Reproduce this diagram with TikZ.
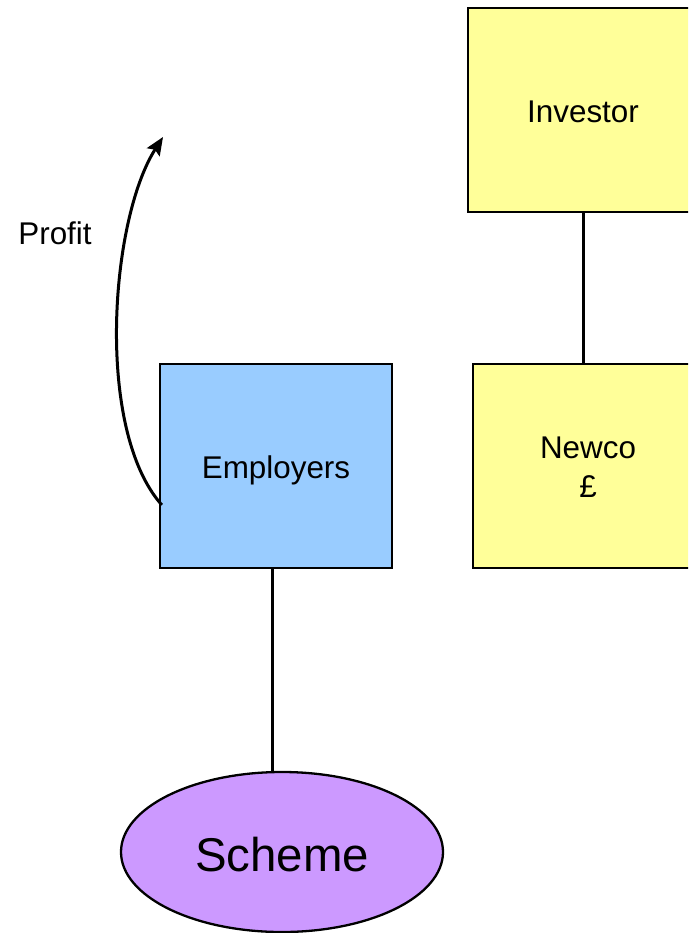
\documentclass[tikz,border=0pt]{standalone}
\usepackage{fontspec}
\setmainfont{Liberation Sans}
\usetikzlibrary{shapes.geometric,arrows.meta,calc}
\definecolor{boxyellow}{HTML}{FFFF99}
\definecolor{boxblue}{HTML}{99CCFF}
\definecolor{boxpurple}{HTML}{CC99FF}
% lower a label inside its node without changing the node's size
\newcommand{\lowtext}[2][3pt]{\raisebox{-#1}[\height][\depth]{#2}}
\begin{document}
\begin{tikzpicture}[x=1pt,y=-1pt,
  entity/.style={draw=black,line width=2.3pt,rectangle,inner sep=0pt,
    minimum width=230pt,minimum height=204pt,align=center,
    font=\fontsize{31.4}{39}\selectfont},
  link/.style={line width=3pt}]
\useasboundingbox (0,0) rectangle (688,933);
\clip (0,0) rectangle (688,933);
\node[entity,fill=boxyellow] (inv) at (583,110) {\lowtext[2pt]{Investor}};
\node[entity,fill=boxyellow] (new) at (588,466)
  {\lowtext[4pt]{\begin{tabular}{@{}c@{}}Newco\\\pounds\end{tabular}}};
\node[entity,fill=boxblue,minimum width=232pt] (emp) at (276,466) {\lowtext[4pt]{Employers}};
\node[ellipse,draw=black,line width=2.3pt,fill=boxpurple,inner sep=0pt,
  minimum width=322pt,minimum height=160pt,
  font=\fontsize{47.4}{56}\selectfont] (sch) at (282,852) {\lowtext[3pt]{Scheme}};
\node[font=\fontsize{31.4}{39}\selectfont] (profit) at (55,233) {Profit};
\draw[link] (inv.south) -- (inv.south |- new.north);
\draw[link] ([xshift=-4pt]emp.south) -- ([xshift=-10pt]sch.north);
\coordinate (ptip) at (163,137);
\draw[link,-{Stealth[length=18pt,width=15pt,inset=3pt]}] ($(emp.west)+(3,39)$)
  .. controls (95,430) and (110,220) .. (ptip);
\end{tikzpicture}
\end{document}
